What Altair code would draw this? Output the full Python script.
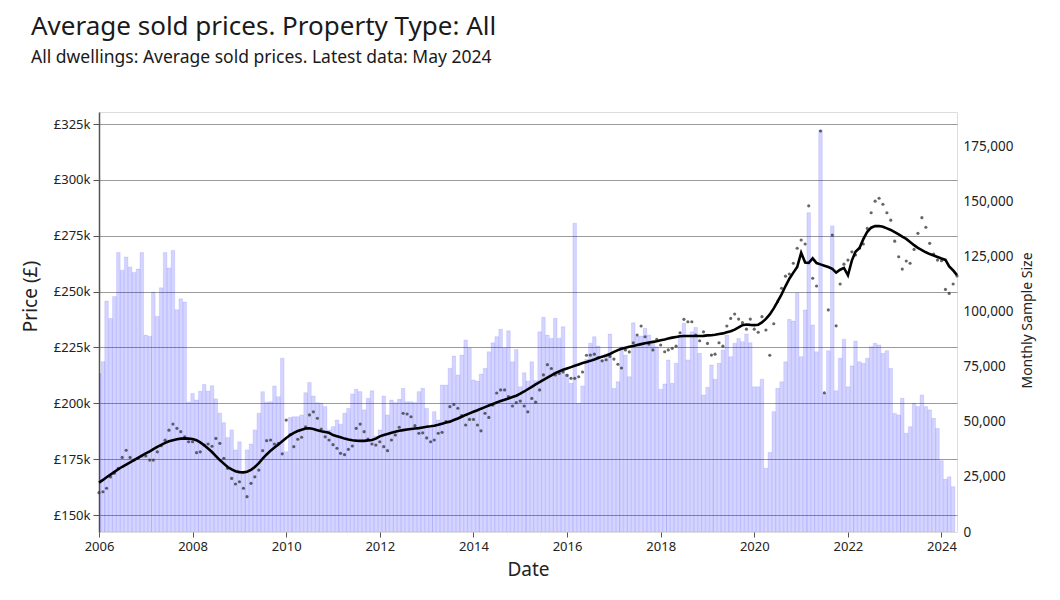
import altair as alt
import pandas as pd

# ---- data ----
# Monthly average sold price (£k), Jan 2006 .. May 2024
price_2006 = [160.0, 160.4, 162.0, 167.0, 168.7, 170.9, 175.8, 179.0, 175.8, 174.6, 175.4, 176.4]
price_2007 = [176.4, 174.6, 174.6, 178.3, 181.0, 183.5, 188.0, 190.7, 188.8, 187.3, 185.0, 182.8]
price_2008 = [182.8, 177.9, 178.3, 181.3, 181.8, 180.8, 184.3, 182.1, 175.4, 170.9, 166.4, 163.9]
price_2009 = [164.9, 162.0, 158.2, 164.2, 167.1, 170.1, 178.8, 183.3, 183.6, 181.8, 182.1, 177.4]
price_2010 = [192.5, 186.0, 180.6, 183.9, 184.8, 189.5, 194.8, 196.2, 193.3, 188.5, 185.0, 183.6]
price_2011 = [181.5, 179.9, 177.6, 177.0, 179.4, 180.9, 188.8, 190.7, 187.3, 184.0, 181.8, 181.3]
price_2012 = [182.8, 180.6, 178.8, 183.6, 185.8, 189.3, 195.5, 195.2, 194.0, 190.0, 186.6, 186.8]
price_2013 = [184.5, 182.8, 183.6, 186.6, 187.0, 191.8, 198.5, 199.5, 197.8, 194.5, 190.3, 192.8]
price_2014 = [192.8, 190.3, 187.7, 195.5, 193.7, 199.2, 204.6, 206.0, 206.0, 203.0, 198.8, 200.3]
price_2015 = [201.0, 198.8, 196.2, 202.2, 200.5, 206.0, 212.7, 217.3, 215.6, 212.7, 213.4, 214.0]
price_2016 = [212.5, 211.2, 211.2, 211.9, 214.0, 221.5, 221.6, 222.0, 220.5, 219.0, 219.5, 221.0]
price_2017 = [219.8, 217.5, 215.8, 223.9, 223.0, 227.1, 230.6, 234.6, 229.8, 226.5, 223.9, 228.6]
price_2018 = [226.1, 223.1, 223.9, 224.6, 225.6, 231.6, 237.6, 236.5, 236.5, 230.6, 228.0, 232.0]
price_2019 = [226.8, 221.6, 222.0, 227.1, 225.6, 234.6, 238.0, 240.0, 237.7, 236.1, 233.2, 237.7]
price_2020 = [233.2, 231.8, 238.8, 232.8, 221.5, 235.6, 245.5, 251.5, 256.9, 257.9, 262.7, 269.4]
price_2021 = [273.1, 271.3, 288.4, 256.0, 252.5, 321.9, 204.7, 241.8, 275.3, 234.7, 253.4, 262.3]
price_2022 = [264.1, 267.8, 266.4, 269.4, 271.3, 278.3, 285.3, 290.5, 291.8, 289.1, 285.3, 282.0]
price_2023 = [272.6, 265.6, 260.1, 263.7, 262.7, 268.9, 276.1, 283.1, 278.8, 271.6, 266.8, 264.1]
price_2024 = [263.8, 251.0, 249.2, 253.4, 257.0]

# Smoothed trend (£k), Jan 2006 .. May 2024
trend_2006 = [164.5, 165.7, 166.9, 168.1, 169.3, 170.5, 171.6, 172.6, 173.6, 174.6, 175.6, 176.6]
trend_2007 = [177.6, 178.5, 179.5, 180.5, 181.4, 182.3, 183.0, 183.5, 183.9, 184.2, 184.3, 184.2]
trend_2008 = [184.0, 183.5, 182.5, 181.2, 179.8, 178.2, 176.4, 174.6, 173.0, 171.5, 170.4, 169.6]
trend_2009 = [169.2, 169.1, 169.4, 170.2, 171.5, 173.2, 175.2, 177.1, 178.8, 180.2, 181.6, 183.0]
trend_2010 = [184.5, 185.8, 186.8, 187.6, 188.2, 188.7, 188.8, 188.5, 188.0, 187.5, 187.2, 186.8]
trend_2011 = [185.8, 185.3, 184.8, 184.2, 183.8, 183.5, 183.3, 183.2, 183.2, 183.4, 183.6, 184.2]
trend_2012 = [185.2, 185.8, 186.3, 186.8, 187.3, 187.7, 188.0, 188.3, 188.5, 188.7, 188.9, 189.2]
trend_2013 = [189.5, 189.7, 190.0, 190.4, 190.9, 191.4, 191.8, 192.5, 193.2, 194.0, 194.8, 195.5]
trend_2014 = [196.2, 196.9, 197.6, 198.3, 199.0, 199.7, 200.4, 201.0, 201.6, 202.2, 202.8, 203.4]
trend_2015 = [204.3, 205.3, 206.3, 207.4, 208.5, 209.5, 210.5, 211.5, 212.5, 213.5, 214.3, 215.0]
trend_2016 = [215.6, 216.2, 216.8, 217.4, 218.0, 218.5, 219.0, 219.6, 220.3, 220.9, 221.4, 222.1]
trend_2017 = [223.0, 223.8, 224.4, 224.9, 225.3, 225.7, 226.1, 226.5, 226.9, 227.2, 227.5, 227.8]
trend_2018 = [228.2, 228.6, 229.0, 229.4, 229.7, 230.0, 230.1, 230.1, 230.1, 230.1, 230.1, 230.2]
trend_2019 = [230.4, 230.5, 230.7, 231.0, 231.3, 231.8, 232.3, 233.0, 234.0, 235.0, 235.3, 235.1]
trend_2020 = [235.0, 235.2, 236.2, 237.8, 239.8, 242.5, 245.5, 248.8, 252.5, 255.8, 258.5, 261.0]
trend_2021 = [267.4, 263.0, 262.9, 264.9, 262.8, 262.2, 261.6, 261.0, 260.2, 258.5, 259.8, 260.6]
trend_2022 = [257.3, 264.0, 267.8, 269.5, 273.5, 276.8, 278.6, 279.3, 279.4, 279.0, 278.3, 277.6]
trend_2023 = [276.6, 275.6, 274.6, 273.6, 272.2, 270.8, 269.6, 268.6, 267.6, 266.8, 266.2, 265.5]
trend_2024 = [264.8, 264.2, 261.3, 259.5, 257.4]

# Monthly sample size (thousands of sales), Jan 2006 .. Apr 2024
count_2006 = [72, 77.4, 105, 97, 107, 127, 119, 125, 120.5, 118, 119.5, 127]
count_2007 = [89.5, 89, 109, 98, 111, 127, 120, 128, 101, 106, 104.5, 59]
count_2008 = [63, 60, 64, 67, 64, 66.5, 60.5, 54, 49.7, 42.9, 46.4, 37.3]
count_2009 = [41, 27, 37.3, 40, 46.4, 54, 63.8, 59, 59.2, 66.4, 61.5, 79]
count_2010 = [36.5, 52.1, 52.4, 52.4, 53.2, 63.3, 68, 61.8, 58.8, 58.5, 57, 46.4]
count_2011 = [47.9, 50.9, 49, 54, 56.2, 62.7, 64.9, 63.8, 55.5, 60.8, 64.2, 43.6]
count_2012 = [46.4, 61.8, 53.2, 60, 58.8, 60.3, 65.3, 59.2, 59.2, 58.8, 63.8, 65.3]
count_2013 = [56.2, 47.1, 54.7, 50.9, 66.8, 66.8, 74.4, 80, 71.4, 80.4, 87.3, 83.5]
count_2014 = [69.1, 68.6, 71.8, 74.4, 81.9, 86, 88.8, 92.1, 83.5, 91.5, 77.4, 83]
count_2015 = [66, 72.4, 68.6, 77.4, 68.8, 91, 97.6, 89.5, 88, 97.1, 88, 93.3]
count_2016 = [71.8, 67.6, 140.3, 58.5, 66.4, 78.5, 85.8, 88.8, 84.5, 78.2, 80.9, 90]
count_2017 = [65.3, 68.3, 84.2, 80.4, 70.6, 95.1, 88.8, 89.1, 92.6, 89.5, 86.5, 84.2]
count_2018 = [64.9, 67.3, 78.2, 67.6, 76.7, 89.5, 94.9, 78.2, 91, 93, 81.2, 62.3]
count_2019 = [65.8, 75.9, 69.4, 76.7, 82.7, 89.5, 79.7, 85.8, 88, 86.5, 90, 86]
count_2020 = [66, 66, 69.4, 29, 36.2, 54.7, 65.3, 68.3, 77.4, 96.7, 95.9, 108.5]
count_2021 = [79.7, 100.9, 145.1, 94.1, 81.9, 182.7, 63, 82.4, 139.1, 64.2, 79, 87.6]
count_2022 = [66, 75.5, 86.8, 77.4, 76.7, 79, 84.2, 85.8, 85, 81.2, 82.4, 74.4]
count_2023 = [53.9, 53.2, 60.8, 44.9, 47.9, 58.5, 57, 62.3, 57, 55.5, 51.7, 47.1]
count_2024 = [32.4, 24, 25.1, 20.6]

price_ticks = [150, 175, 200, 225, 250, 275, 300, 325]
count_ticks = [0, 25, 50, 75, 100, 125, 150, 175]
year_ticks = list(range(2006, 2025, 2))

prices = (price_2006 + price_2007 + price_2008 + price_2009 + price_2010 + price_2011 +
          price_2012 + price_2013 + price_2014 + price_2015 + price_2016 + price_2017 +
          price_2018 + price_2019 + price_2020 + price_2021 + price_2022 + price_2023 + price_2024)
trend = (trend_2006 + trend_2007 + trend_2008 + trend_2009 + trend_2010 + trend_2011 +
         trend_2012 + trend_2013 + trend_2014 + trend_2015 + trend_2016 + trend_2017 +
         trend_2018 + trend_2019 + trend_2020 + trend_2021 + trend_2022 + trend_2023 + trend_2024)
counts = (count_2006 + count_2007 + count_2008 + count_2009 + count_2010 + count_2011 +
          count_2012 + count_2013 + count_2014 + count_2015 + count_2016 + count_2017 +
          count_2018 + count_2019 + count_2020 + count_2021 + count_2022 + count_2023 + count_2024)

dates = pd.date_range("2006-01-01", periods=len(prices), freq="MS")
price_df = pd.DataFrame({"date": dates, "price": prices, "trend": trend})

bar_dates = dates[: len(counts)]
bar_df = pd.DataFrame({
    "start": bar_dates - pd.Timedelta(days=14),
    "end": bar_dates + pd.Timedelta(days=14),
    "count": counts,
})

FONT = "Noto Sans"
TXT = "#222222"

xscale = alt.Scale(domain=[alt.DateTime(year=2006, month=1, date=1),
                           alt.DateTime(year=2024, month=5, date=1)], nice=False)
xaxis = alt.Axis(
    title="Date",
    values=[alt.DateTime(year=y, month=1, date=1) for y in year_ticks],
    format="%Y", labelFlush=False, labelOverlap=False,
    grid=False, domain=False, tickSize=5, tickColor="#555555",
    labelFontSize=13, labelFont=FONT, labelColor=TXT, labelPadding=3,
    titleFontSize=19, titleFont=FONT, titleFontWeight="normal", titleColor=TXT, titlePadding=7,
)

pscale = alt.Scale(domain=[142.4, 330.4], nice=False, zero=False)
paxis = alt.Axis(
    orient="left", values=price_ticks, labelExpr="'£' + datum.value + 'k'",
    grid=True, gridColor="#9a9a9a", gridWidth=1.1,
    domain=True, domainColor="#555555", domainWidth=1.5,
    tickColor="#555555", tickSize=6, labelPadding=3, labelFlush=False,
    labelFontSize=13, labelFont=FONT, labelColor=TXT,
    title="Price (£)", titleFontSize=19, titleFont=FONT, titleFontWeight="normal", titleColor=TXT,
    titleAngle=270, titleX=-69, titleY=184, titleAlign="center", titleBaseline="middle",
)

cscale = alt.Scale(domain=[0, 190.9], nice=False, zero=True)
caxis = alt.Axis(
    orient="right", values=count_ticks, labelExpr="format(datum.value * 1000, ',')",
    grid=False, domain=False, ticks=False, labelPadding=6, labelFlush=False,
    labelFontSize=13.5, labelFont=FONT, labelColor=TXT,
    title="Monthly Sample Size", titleFontSize=14, titleFont=FONT, titleFontWeight="normal", titleColor=TXT,
    titleAngle=270, titleX=70, titleY=208, titleAlign="center", titleBaseline="middle",
)

bars = alt.Chart(bar_df).mark_bar(
    color="#0000ff", fillOpacity=0.17, stroke="#0000ff", strokeOpacity=0.12, strokeWidth=0.8, clip=True
).encode(
    x=alt.X("start:T", scale=xscale, axis=xaxis),
    x2="end:T",
    y=alt.Y("count:Q", scale=cscale, axis=caxis),
    y2=alt.datum(0),
)

points = alt.Chart(price_df).mark_circle(size=10, color="#333333", opacity=0.75).encode(
    x=alt.X("date:T", scale=xscale, axis=xaxis),
    y=alt.Y("price:Q", scale=pscale, axis=paxis),
)

line = alt.Chart(price_df).mark_line(color="black", strokeWidth=2.6).encode(
    x=alt.X("date:T", scale=xscale, axis=xaxis),
    y=alt.Y("trend:Q", scale=pscale, axis=paxis),
)

chart = alt.layer(bars, alt.layer(points, line)).resolve_scale(y="independent").properties(
    width=858, height=420,
    padding={"left": 91, "top": 104, "right": 80, "bottom": 60},
    autosize=alt.AutoSizeParams(type="none"),
    title=alt.TitleParams(
        text="Average sold prices. Property Type: All",
        subtitle="All dwellings: Average sold prices. Latest data: May 2024",
        anchor="start", frame="group", dx=-68, offset=46,
        font=FONT, fontSize=26, fontWeight="normal", color="#1a1a1a",
        subtitleFont=FONT, subtitleFontSize=17.5, subtitleColor="#1a1a1a", subtitlePadding=9,
    ),
).configure_view(stroke=None).configure(background="white")

chart.save("out.html", embed_options={"renderer": "svg", "actions": False})
